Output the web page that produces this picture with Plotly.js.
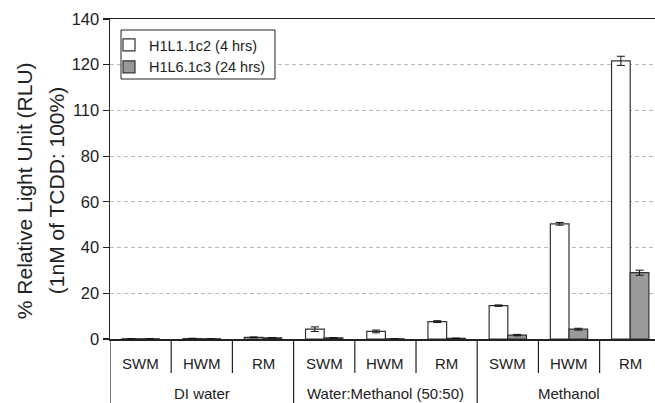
<!DOCTYPE html>
<html>
<head>
<meta charset="utf-8">
<script src="https://cdn.plot.ly/plotly-3.0.1.min.js"></script>
<style>
  html, body { margin: 0; padding: 0; background: #fff; }
  #chart { width: 655px; height: 403px; }
</style>
</head>
<body>
<div id="chart"></div>
<script>
// ---- data ----
const subCategories = ["SWM", "HWM", "RM", "SWM", "HWM", "RM", "SWM", "HWM", "RM"];
const groupNames = ["DI water", "Water:Methanol (50:50)", "Methanol"];
const groupSizes = [3, 3, 3];

const seriesAName = "H1L1.1c2 (4 hrs)";
const seriesAValues = [0.1, 0.2, 0.7, 4.3, 3.3, 7.6, 14.6, 50.4, 121.7];
const seriesAErrors = [0.1, 0.1, 0.2, 1.0, 0.6, 0.4, 0.3, 0.6, 2.0];

const seriesBName = "H1L6.1c3 (24 hrs)";
const seriesBValues = [0.1, 0.1, 0.5, 0.5, 0.1, 0.3, 1.7, 4.3, 29.0];
const seriesBErrors = [0.05, 0.05, 0.1, 0.1, 0.05, 0.1, 0.3, 0.4, 1.1];

const yTickValues = [0, 20, 40, 60, 80, 100, 120, 140];
const yTickLabels = ["0", "20", "40", "60", "80", "110", "120", "140"];

const yTitleLines = ["% Relative Light Unit (RLU)", "(1nM of TCDD: 100%)"];

// ---- build ----
const FONT = '"Liberation Sans", Arial, Helvetica, sans-serif';
const xIdx = subCategories.map((_, i) => i);

const errStyle = { type: "data", visible: true, color: "#111", thickness: 1, width: 4 };

const traces = [
  {
    type: "bar", name: seriesAName, x: xIdx, y: seriesAValues,
    marker: { color: "#ffffff", line: { color: "#333", width: 1.2 } },
    error_y: Object.assign({ array: seriesAErrors }, errStyle)
  },
  {
    type: "bar", name: seriesBName, x: xIdx, y: seriesBValues,
    marker: { color: "#999999", line: { color: "#333", width: 1.2 } },
    error_y: Object.assign({ array: seriesBErrors }, errStyle)
  }
];

const plotW = 545, plotH = 320;
const row1 = -24 / plotH, row2 = -54 / plotH, innerEnd = -34 / plotH, outerEnd = -64 / plotH;

const annotations = [];
const shapes = [];
subCategories.forEach((lab, i) => {
  annotations.push({ x: i, y: row1, xref: "x", yref: "paper", text: lab, showarrow: false,
    xanchor: "center", yanchor: "middle", font: { family: FONT, size: 15, color: "#222" } });
});
let start = 0;
groupNames.forEach((g, k) => {
  const n = groupSizes[k];
  annotations.push({ x: start + (n - 1) / 2, y: row2, xref: "x", yref: "paper", text: g, showarrow: false,
    xanchor: "center", yanchor: "middle", font: { family: FONT, size: 15, color: "#222" } });
  shapes.push({ type: "line", xref: "x", yref: "paper", x0: start - 0.5, x1: start - 0.5, y0: 0, y1: outerEnd,
    line: { color: "#222", width: 1.2 } });
  for (let j = 1; j < n; j++) {
    shapes.push({ type: "line", xref: "x", yref: "paper", x0: start + j - 0.5, x1: start + j - 0.5, y0: 0, y1: innerEnd,
      line: { color: "#222", width: 1.2 } });
  }
  start += n;
});

// y-axis title, two lines (rotated text left of the tick labels)
const titleX = [-86 / plotW, -54 / plotW];
yTitleLines.forEach((t, i) => {
  annotations.push({ x: titleX[i], y: 0.462, xref: "paper", yref: "paper", text: t, showarrow: false,
    textangle: -90, xanchor: "center", yanchor: "middle", font: { family: FONT, size: 21, color: "#222" } });
});

// legend frame
shapes.push({ type: "rect", xref: "paper", yref: "paper", layer: "above",
  x0: 11 / plotW, x1: 165 / plotW, y0: 1 - 60 / plotH, y1: 1 - 11 / plotH,
  fillcolor: "#ffffff", line: { color: "#222", width: 1 } });

const layout = {
  width: 655, height: 403,
  margin: { l: 110, r: 0, t: 19, b: 64, pad: 0 },
  paper_bgcolor: "#fff", plot_bgcolor: "#fff",
  font: { family: FONT, color: "#222" },
  barmode: "group", bargap: 0.39, bargroupgap: 0,
  showlegend: true,
  legend: {
    x: -1 / plotW, y: 1 - 10 / plotH, xanchor: "left", yanchor: "top",
    bgcolor: "rgba(0,0,0,0)", borderwidth: 0,
    font: { family: FONT, size: 14.5, color: "#222" },
    itemwidth: 30, tracegroupgap: 0
  },
  xaxis: {
    range: [-0.5, 8.405], showticklabels: false, ticks: "", showgrid: false, zeroline: false,
    showline: true, mirror: true, linecolor: "#222", linewidth: 1.5, fixedrange: true
  },
  yaxis: {
    range: [0, 140], tickvals: yTickValues, ticktext: yTickLabels,
    ticks: "outside", ticklen: 6, tickcolor: "#222", tickwidth: 1.2,
    tickfont: { family: FONT, size: 16.5, color: "#222" },
    showline: true, linecolor: "#222", linewidth: 1.5, zeroline: false,
    showgrid: true, gridcolor: "#b8b8b8", gridwidth: 1, griddash: "4px,3px",
    fixedrange: true
  },
  annotations: annotations,
  shapes: shapes
};

Plotly.newPlot("chart", traces, layout, { displayModeBar: false, staticPlot: true });
</script>
</body>
</html>
